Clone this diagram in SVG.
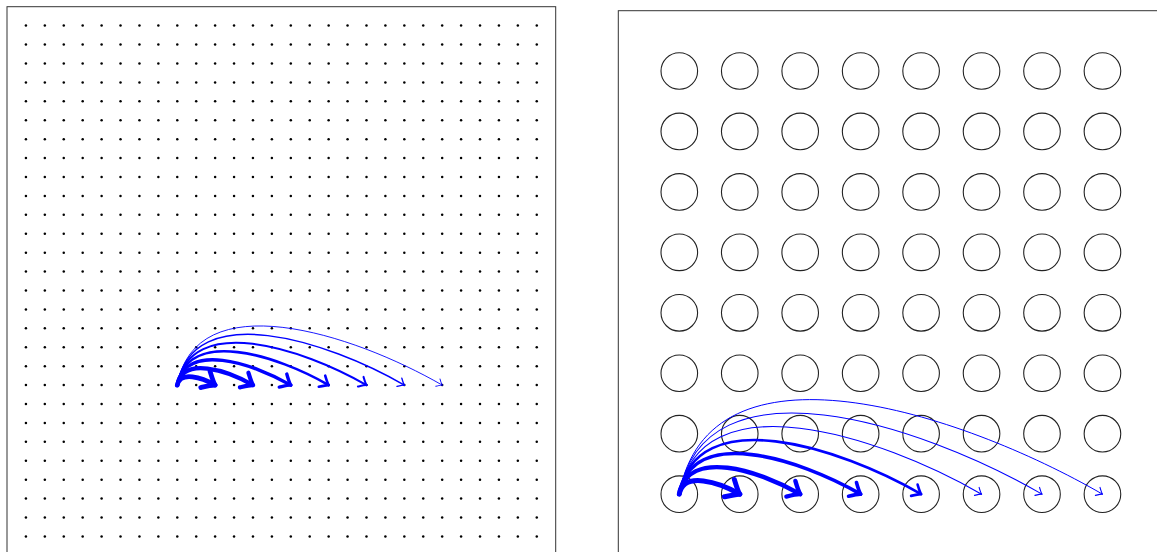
<svg xmlns="http://www.w3.org/2000/svg" xmlns:xlink="http://www.w3.org/1999/xlink" width="1157" height="552" viewBox="0 0 1157 552">
<style>
.frame{fill:none;stroke:#333;stroke-width:1}
.dot{fill:#000}
.node{fill:none;stroke:#222;stroke-width:1.1}
.arc{fill:none;stroke:#0000ff;stroke-linecap:round}
.tip{fill:none;stroke:#0000ff;stroke-linecap:round;stroke-linejoin:round}
</style>
<defs>
<g id="dotrow">
<circle class="dot" cx="25.92" cy="0" r="1.25"/><circle class="dot" cx="44.84" cy="0" r="1.25"/><circle class="dot" cx="63.76" cy="0" r="1.25"/><circle class="dot" cx="82.68" cy="0" r="1.25"/><circle class="dot" cx="101.6" cy="0" r="1.25"/><circle class="dot" cx="120.52" cy="0" r="1.25"/><circle class="dot" cx="139.44" cy="0" r="1.25"/><circle class="dot" cx="158.36" cy="0" r="1.25"/><circle class="dot" cx="177.28" cy="0" r="1.25"/><circle class="dot" cx="196.2" cy="0" r="1.25"/><circle class="dot" cx="215.12" cy="0" r="1.25"/><circle class="dot" cx="234.04" cy="0" r="1.25"/><circle class="dot" cx="252.96" cy="0" r="1.25"/><circle class="dot" cx="271.88" cy="0" r="1.25"/><circle class="dot" cx="290.8" cy="0" r="1.25"/><circle class="dot" cx="309.72" cy="0" r="1.25"/><circle class="dot" cx="328.64" cy="0" r="1.25"/><circle class="dot" cx="347.56" cy="0" r="1.25"/><circle class="dot" cx="366.48" cy="0" r="1.25"/><circle class="dot" cx="385.4" cy="0" r="1.25"/><circle class="dot" cx="404.32" cy="0" r="1.25"/><circle class="dot" cx="423.24" cy="0" r="1.25"/><circle class="dot" cx="442.16" cy="0" r="1.25"/><circle class="dot" cx="461.08" cy="0" r="1.25"/><circle class="dot" cx="480" cy="0" r="1.25"/><circle class="dot" cx="498.92" cy="0" r="1.25"/><circle class="dot" cx="517.84" cy="0" r="1.25"/><circle class="dot" cx="536.76" cy="0" r="1.25"/>
</g>
<marker id="m1" markerUnits="userSpaceOnUse" markerWidth="1" markerHeight="1" refX="0" refY="0" orient="auto" overflow="visible"><path class="tip" stroke-width="4.8" d="M-11.2,-9.3 C-6.4,-4.8 -2.7,-1.3 0,0 C-2.7,1.3 -6.4,4.8 -11.2,9.3"/></marker>
<marker id="m2" markerUnits="userSpaceOnUse" markerWidth="1" markerHeight="1" refX="0" refY="0" orient="auto" overflow="visible"><path class="tip" stroke-width="4.2" d="M-10.2,-8.5 C-5.8,-4.4 -2.5,-1.2 0,0 C-2.5,1.2 -5.8,4.4 -10.2,8.5"/></marker>
<marker id="m3" markerUnits="userSpaceOnUse" markerWidth="1" markerHeight="1" refX="0" refY="0" orient="auto" overflow="visible"><path class="tip" stroke-width="3.4" d="M-9,-7.5 C-5.1,-3.9 -2.2,-1 0,0 C-2.2,1 -5.1,3.9 -9,7.5"/></marker>
<marker id="m4" markerUnits="userSpaceOnUse" markerWidth="1" markerHeight="1" refX="0" refY="0" orient="auto" overflow="visible"><path class="tip" stroke-width="2.6" d="M-7.7,-6.4 C-4.4,-3.3 -1.8,-0.9 0,0 C-1.8,0.9 -4.4,3.3 -7.7,6.4"/></marker>
<marker id="m5" markerUnits="userSpaceOnUse" markerWidth="1" markerHeight="1" refX="0" refY="0" orient="auto" overflow="visible"><path class="tip" stroke-width="2" d="M-6.7,-5.6 C-3.8,-2.9 -1.6,-0.8 0,0 C-1.6,0.8 -3.8,2.9 -6.7,5.6"/></marker>
<marker id="m6" markerUnits="userSpaceOnUse" markerWidth="1" markerHeight="1" refX="0" refY="0" orient="auto" overflow="visible"><path class="tip" stroke-width="1.4" d="M-5.7,-4.8 C-3.3,-2.5 -1.4,-0.7 0,0 C-1.4,0.7 -3.3,2.5 -5.7,4.8"/></marker>
<marker id="m7" markerUnits="userSpaceOnUse" markerWidth="1" markerHeight="1" refX="0" refY="0" orient="auto" overflow="visible"><path class="tip" stroke-width="0.9" d="M-5,-4.2 C-2.9,-2.2 -1.2,-0.6 0,0 C-1.2,0.6 -2.9,2.2 -5,4.2"/></marker>
<marker id="r1" markerUnits="userSpaceOnUse" markerWidth="1" markerHeight="1" refX="0" refY="0" orient="auto" overflow="visible"><path class="tip" stroke-width="5" d="M-12,-10 C-6.8,-5.1 -2.9,-1.4 0,0 C-2.9,1.4 -6.8,5.1 -12,10"/></marker>
<marker id="r2" markerUnits="userSpaceOnUse" markerWidth="1" markerHeight="1" refX="0" refY="0" orient="auto" overflow="visible"><path class="tip" stroke-width="4.4" d="M-10.8,-9 C-6.2,-4.6 -2.6,-1.3 0,0 C-2.6,1.3 -6.2,4.6 -10.8,9"/></marker>
<marker id="r3" markerUnits="userSpaceOnUse" markerWidth="1" markerHeight="1" refX="0" refY="0" orient="auto" overflow="visible"><path class="tip" stroke-width="3.6" d="M-9.4,-7.9 C-5.4,-4 -2.3,-1.1 0,0 C-2.3,1.1 -5.4,4 -9.4,7.9"/></marker>
<marker id="r4" markerUnits="userSpaceOnUse" markerWidth="1" markerHeight="1" refX="0" refY="0" orient="auto" overflow="visible"><path class="tip" stroke-width="2.6" d="M-7.8,-6.5 C-4.4,-3.3 -1.8,-0.9 0,0 C-1.8,0.9 -4.4,3.3 -7.8,6.5"/></marker>
<marker id="r5" markerUnits="userSpaceOnUse" markerWidth="1" markerHeight="1" refX="0" refY="0" orient="auto" overflow="visible"><path class="tip" stroke-width="1.1" d="M-5.5,-4.6 C-3.1,-2.3 -1.3,-0.7 0,0 C-1.3,0.7 -3.1,2.3 -5.5,4.6"/></marker>
</defs>

<g id="left-panel">
<rect class="frame" x="7" y="6.7" width="548.7" height="548.7"/>
<g id="dot-grid">
<use xlink:href="#dotrow" y="25.62"/><use xlink:href="#dotrow" y="44.54"/><use xlink:href="#dotrow" y="63.46"/><use xlink:href="#dotrow" y="82.38"/><use xlink:href="#dotrow" y="101.3"/><use xlink:href="#dotrow" y="120.22"/><use xlink:href="#dotrow" y="139.14"/><use xlink:href="#dotrow" y="158.06"/><use xlink:href="#dotrow" y="176.98"/><use xlink:href="#dotrow" y="195.9"/><use xlink:href="#dotrow" y="214.82"/><use xlink:href="#dotrow" y="233.74"/><use xlink:href="#dotrow" y="252.66"/><use xlink:href="#dotrow" y="271.58"/><use xlink:href="#dotrow" y="290.5"/><use xlink:href="#dotrow" y="309.42"/><use xlink:href="#dotrow" y="328.34"/><use xlink:href="#dotrow" y="347.26"/><use xlink:href="#dotrow" y="366.18"/><use xlink:href="#dotrow" y="385.1"/><use xlink:href="#dotrow" y="404.02"/><use xlink:href="#dotrow" y="422.94"/><use xlink:href="#dotrow" y="441.86"/><use xlink:href="#dotrow" y="460.78"/><use xlink:href="#dotrow" y="479.7"/><use xlink:href="#dotrow" y="498.62"/><use xlink:href="#dotrow" y="517.54"/><use xlink:href="#dotrow" y="536.46"/>
</g>
</g>

<g id="right-panel">
<rect class="frame" x="618.3" y="10.7" width="544" height="544"/>
<g id="row0"><circle id="n0-0" class="node" cx="679.3" cy="71" r="18.3"/><circle id="n0-1" class="node" cx="739.75" cy="71" r="18.3"/><circle id="n0-2" class="node" cx="800.2" cy="71" r="18.3"/><circle id="n0-3" class="node" cx="860.65" cy="71" r="18.3"/><circle id="n0-4" class="node" cx="921.1" cy="71" r="18.3"/><circle id="n0-5" class="node" cx="981.55" cy="71" r="18.3"/><circle id="n0-6" class="node" cx="1042" cy="71" r="18.3"/><circle id="n0-7" class="node" cx="1102.45" cy="71" r="18.3"/></g>
<g id="row1"><circle id="n1-0" class="node" cx="679.3" cy="131.45" r="18.3"/><circle id="n1-1" class="node" cx="739.75" cy="131.45" r="18.3"/><circle id="n1-2" class="node" cx="800.2" cy="131.45" r="18.3"/><circle id="n1-3" class="node" cx="860.65" cy="131.45" r="18.3"/><circle id="n1-4" class="node" cx="921.1" cy="131.45" r="18.3"/><circle id="n1-5" class="node" cx="981.55" cy="131.45" r="18.3"/><circle id="n1-6" class="node" cx="1042" cy="131.45" r="18.3"/><circle id="n1-7" class="node" cx="1102.45" cy="131.45" r="18.3"/></g>
<g id="row2"><circle id="n2-0" class="node" cx="679.3" cy="191.9" r="18.3"/><circle id="n2-1" class="node" cx="739.75" cy="191.9" r="18.3"/><circle id="n2-2" class="node" cx="800.2" cy="191.9" r="18.3"/><circle id="n2-3" class="node" cx="860.65" cy="191.9" r="18.3"/><circle id="n2-4" class="node" cx="921.1" cy="191.9" r="18.3"/><circle id="n2-5" class="node" cx="981.55" cy="191.9" r="18.3"/><circle id="n2-6" class="node" cx="1042" cy="191.9" r="18.3"/><circle id="n2-7" class="node" cx="1102.45" cy="191.9" r="18.3"/></g>
<g id="row3"><circle id="n3-0" class="node" cx="679.3" cy="252.35" r="18.3"/><circle id="n3-1" class="node" cx="739.75" cy="252.35" r="18.3"/><circle id="n3-2" class="node" cx="800.2" cy="252.35" r="18.3"/><circle id="n3-3" class="node" cx="860.65" cy="252.35" r="18.3"/><circle id="n3-4" class="node" cx="921.1" cy="252.35" r="18.3"/><circle id="n3-5" class="node" cx="981.55" cy="252.35" r="18.3"/><circle id="n3-6" class="node" cx="1042" cy="252.35" r="18.3"/><circle id="n3-7" class="node" cx="1102.45" cy="252.35" r="18.3"/></g>
<g id="row4"><circle id="n4-0" class="node" cx="679.3" cy="312.8" r="18.3"/><circle id="n4-1" class="node" cx="739.75" cy="312.8" r="18.3"/><circle id="n4-2" class="node" cx="800.2" cy="312.8" r="18.3"/><circle id="n4-3" class="node" cx="860.65" cy="312.8" r="18.3"/><circle id="n4-4" class="node" cx="921.1" cy="312.8" r="18.3"/><circle id="n4-5" class="node" cx="981.55" cy="312.8" r="18.3"/><circle id="n4-6" class="node" cx="1042" cy="312.8" r="18.3"/><circle id="n4-7" class="node" cx="1102.45" cy="312.8" r="18.3"/></g>
<g id="row5"><circle id="n5-0" class="node" cx="679.3" cy="373.25" r="18.3"/><circle id="n5-1" class="node" cx="739.75" cy="373.25" r="18.3"/><circle id="n5-2" class="node" cx="800.2" cy="373.25" r="18.3"/><circle id="n5-3" class="node" cx="860.65" cy="373.25" r="18.3"/><circle id="n5-4" class="node" cx="921.1" cy="373.25" r="18.3"/><circle id="n5-5" class="node" cx="981.55" cy="373.25" r="18.3"/><circle id="n5-6" class="node" cx="1042" cy="373.25" r="18.3"/><circle id="n5-7" class="node" cx="1102.45" cy="373.25" r="18.3"/></g>
<g id="row6"><circle id="n6-0" class="node" cx="679.3" cy="433.7" r="18.3"/><circle id="n6-1" class="node" cx="739.75" cy="433.7" r="18.3"/><circle id="n6-2" class="node" cx="800.2" cy="433.7" r="18.3"/><circle id="n6-3" class="node" cx="860.65" cy="433.7" r="18.3"/><circle id="n6-4" class="node" cx="921.1" cy="433.7" r="18.3"/><circle id="n6-5" class="node" cx="981.55" cy="433.7" r="18.3"/><circle id="n6-6" class="node" cx="1042" cy="433.7" r="18.3"/><circle id="n6-7" class="node" cx="1102.45" cy="433.7" r="18.3"/></g>
<g id="row7"><circle id="n7-0" class="node" cx="679.3" cy="494.15" r="18.3"/><circle id="n7-1" class="node" cx="739.75" cy="494.15" r="18.3"/><circle id="n7-2" class="node" cx="800.2" cy="494.15" r="18.3"/><circle id="n7-3" class="node" cx="860.65" cy="494.15" r="18.3"/><circle id="n7-4" class="node" cx="921.1" cy="494.15" r="18.3"/><circle id="n7-5" class="node" cx="981.55" cy="494.15" r="18.3"/><circle id="n7-6" class="node" cx="1042" cy="494.15" r="18.3"/><circle id="n7-7" class="node" cx="1102.45" cy="494.15" r="18.3"/></g>
</g>

<g id="connectors">
<g id="left-arcs">
<path class="arc" stroke-width="0.9" marker-end="url(#m7)" d="M177.3,385.1 C195.31,282.96 352.39,333.18 442.18,385.1"/>
<path class="arc" stroke-width="1.4" marker-end="url(#m6)" d="M177.3,385.1 C192.74,297.55 327.37,340.6 404.34,385.1"/>
<path class="arc" stroke-width="2" marker-end="url(#m5)" d="M177.3,385.1 C190.17,312.14 302.36,348.02 366.5,385.1"/>
<path class="arc" stroke-width="2.6" marker-end="url(#m4)" d="M177.3,385.1 C187.59,326.74 277.35,355.43 328.66,385.1"/>
<path class="arc" stroke-width="3.4" marker-end="url(#m3)" d="M177.3,385.1 C185.02,341.33 252.34,362.85 290.82,385.1"/>
<path class="arc" stroke-width="4.2" marker-end="url(#m2)" d="M177.3,385.1 C182.45,355.92 227.32,370.27 252.98,385.1"/>
<path class="arc" stroke-width="4.8" marker-end="url(#m1)" d="M177.3,385.1 C179.87,370.51 202.31,377.68 215.14,385.1"/>
</g>
<g id="right-arcs">
<path class="arc" stroke-width="1" marker-end="url(#r5)" d="M679.3,494.15 C708.07,330.98 959,411.21 1102.45,494.15"/>
<path class="arc" stroke-width="1.05" marker-end="url(#r5)" d="M679.3,494.15 C703.96,354.29 919.04,423.06 1042,494.15"/>
<path class="arc" stroke-width="1.1" marker-end="url(#r5)" d="M679.3,494.15 C699.85,377.6 879.09,434.91 981.55,494.15"/>
<path class="arc" stroke-width="2.6" marker-end="url(#r4)" d="M679.3,494.15 C695.74,400.91 839.13,446.76 921.1,494.15"/>
<path class="arc" stroke-width="3.6" marker-end="url(#r3)" d="M679.3,494.15 C691.63,424.22 799.17,458.6 860.65,494.15"/>
<path class="arc" stroke-width="4.4" marker-end="url(#r2)" d="M679.3,494.15 C687.52,447.53 759.21,470.45 800.2,494.15"/>
<path class="arc" stroke-width="5" marker-end="url(#r1)" d="M679.3,494.15 C683.41,470.84 719.26,482.3 739.75,494.15"/>
</g>
</g>
</svg>
